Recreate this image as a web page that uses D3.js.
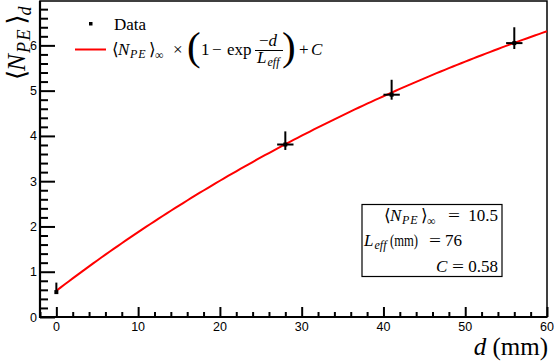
<!DOCTYPE html>
<html>
<head>
<meta charset="utf-8">
<script src="https://cdn.jsdelivr.net/npm/d3@7"></script>
<style>
	body { margin: 0; background: #fff; }
	svg { display: block; }
	.tick-label { font-family: "Liberation Sans", Arial, sans-serif; font-size: 12.5px; fill: #000; }
	.math { font-family: "Liberation Serif", "DejaVu Serif", serif; fill: #000; font-size: 17px; }
</style>
</head>
<body>
<div id="chart"></div>
<script>
// measured points: distance (mm), mean photo-electrons, asymmetric errors
var distances = [0, 28, 41, 56]
var npe = [0.55, 3.81, 4.91, 6.05]
var errUp = [0.21, 0.29, 0.33, 0.35]
var errDown = [0.02, 0.12, 0.11, 0.13]
var errX = [0, 1, 1, 1]
// fit parameters shown in the box
var fitNinf = 10.5
var fitLeff = 76
var fitC = 0.58
var xTicks = [0, 10, 20, 30, 40, 50, 60]
var yTicks = [0, 1, 2, 3, 4, 5, 6]

var width = 554, height = 363
var frame = {left: 40, right: 547, top: 1, bottom: 317}

var svg = d3.select("#chart").append("svg")
	.attr("width", width)
	.attr("height", height)

var x = d3.scaleLinear().domain([-2, 60]).range([frame.left, frame.right])
var y = d3.scaleLinear().domain([0, 6.98]).range([frame.bottom, frame.top])

// frame
svg.append("rect")
	.attr("x", frame.left).attr("y", frame.top)
	.attr("width", frame.right - frame.left).attr("height", frame.bottom - frame.top)
	.attr("fill", "none").attr("stroke", "#000").attr("stroke-width", 1.5)

// y axis, ROOT style: ticks drawn inside
svg.append("g").attr("transform", "translate(" + frame.left + ",0)")
	.call(d3.axisRight(y).tickValues(yTicks).tickSize(15).tickFormat(""))
var yMinor = d3.range(0, 6.9, 0.2).filter((v) => Math.abs(v - Math.round(v)) > 0.01)
svg.append("g").attr("transform", "translate(" + frame.left + ",0)")
	.call(d3.axisRight(y).tickValues(yMinor).tickSize(8).tickFormat(""))
svg.selectAll("g.ylab").data(yTicks).enter()
	.append("text")
	.attr("class", "tick-label")
	.attr("x", frame.left - 3)
	.attr("y", (d) => y(d) + 4.5)
	.style("text-anchor", "end")
	.text((d) => d)

// x axis
svg.append("g").attr("transform", "translate(0," + frame.bottom + ")")
	.call(d3.axisTop(x).tickValues(xTicks).tickSize(10).tickFormat(""))
var xMinor = d3.range(-2, 60, 2).filter((v) => v % 10 != 0)
svg.append("g").attr("transform", "translate(0," + frame.bottom + ")")
	.call(d3.axisTop(x).tickValues(xMinor).tickSize(5).tickFormat(""))
svg.selectAll("g path.domain").remove()
svg.selectAll("g .tick line").attr("stroke-width", 2)
svg.selectAll("text.xlab").data(xTicks).enter()
	.append("text")
	.attr("class", "tick-label xlab")
	.attr("x", (d) => x(d))
	.attr("y", frame.bottom + 14)
	.style("text-anchor", "middle")
	.text((d) => d)

// thick axis lines
svg.append("line").attr("x1", frame.left).attr("x2", frame.left)
	.attr("y1", frame.top).attr("y2", frame.bottom + 1)
	.attr("stroke", "#000").attr("stroke-width", 2.2)
svg.append("line").attr("x1", frame.left - 1).attr("x2", frame.right)
	.attr("y1", frame.bottom).attr("y2", frame.bottom)
	.attr("stroke", "#000").attr("stroke-width", 2.2)

// fit curve
var fitFn = (d) => fitNinf * (1 - Math.exp(-d / fitLeff)) + fitC
var curveD = d3.range(0, 60.01, 0.5)
svg.append("path")
	.attr("d", d3.line().x((d) => x(d)).y((d) => y(fitFn(d)))(curveD))
	.attr("fill", "none").attr("stroke", "#ff0000").attr("stroke-width", 2)

// data with error bars
var points = distances.map((d, i) => ({d: d, v: npe[i], up: errUp[i], down: errDown[i], ex: errX[i]}))
var pg = svg.selectAll("g.point").data(points).enter().append("g").attr("class", "point")
pg.append("line")
	.attr("x1", (p) => x(p.d)).attr("x2", (p) => x(p.d))
	.attr("y1", (p) => y(p.v + p.up)).attr("y2", (p) => y(p.v - p.down))
	.attr("stroke", "#000").attr("stroke-width", 2)
pg.filter((p) => p.ex > 0).append("line")
	.attr("x1", (p) => x(p.d - p.ex)).attr("x2", (p) => x(p.d + p.ex))
	.attr("y1", (p) => y(p.v)).attr("y2", (p) => y(p.v))
	.attr("stroke", "#000").attr("stroke-width", 2)
pg.append("rect")
	.attr("x", (p) => x(p.d) - 2).attr("y", (p) => y(p.v) - 2)
	.attr("width", 4).attr("height", 4).attr("fill", "#000")

// helpers for little LaTeX-like pieces
function mtext(px, py, size, anchor) {
	return svg.append("text").attr("class", "math")
		.attr("x", px).attr("y", py)
		.style("font-size", size + "px")
		.style("text-anchor", anchor || "start")
}
// <N_PE>_sub, each glyph placed at its own x, scale k relative to 17px
function npeSymbol(g, px, py, k, sub) {
	var t = g.append("text").attr("class", "math").attr("y", py).style("font-size", (17 * k) + "px")
	t.append("tspan").attr("x", px).text("\u27E8")
	t.append("tspan").attr("x", px + 6 * k).style("font-style", "italic").text("N")
	t.append("tspan").attr("x", px + 18 * k).attr("dy", 3 * k).style("font-style", "italic")
		.style("letter-spacing", (1 * k) + "px")
		.style("font-size", (12 * k) + "px").text("PE")
	t.append("tspan").attr("x", px + 37 * k).attr("dy", -3 * k).text("\u27E9")
	t.append("tspan").attr("x", px + 43 * k).attr("dy", 4 * k)
		.style("font-style", sub == "d" ? "italic" : "normal")
		.style("font-size", (12 * k) + "px").text(sub)
	return t
}
function leff(t) {
	t.append("tspan").style("font-style", "italic").text("L")
	t.append("tspan").style("font-style", "italic").style("font-size", "12px")
		.attr("dx", 1).attr("dy", 3).text("eff")
	return t
}
function eq(px, py) {
	return mtext(px, py, 17).attr("textLength", 12).attr("lengthAdjust", "spacingAndGlyphs").text("=")
}

// y axis title
var ytg = svg.append("g").attr("transform", "translate(25,0) rotate(-90)")
npeSymbol(ytg, -80, 0, 1.5, "d")

// x axis title
var xt = mtext(548, 355, 25, "end")
xt.append("tspan").style("font-style", "italic").text("d")
xt.append("tspan").text(" (mm)")

// legend
svg.append("rect").attr("x", 89).attr("y", 22).attr("width", 3.5).attr("height", 3.5).attr("fill", "#000")
mtext(114, 30, 17).text("Data")
svg.append("line").attr("x1", 75).attr("x2", 106).attr("y1", 49.5).attr("y2", 49.5)
	.attr("stroke", "#ff0000").attr("stroke-width", 2)
npeSymbol(svg, 112, 55, 1, "\u221E")
mtext(173, 55, 17).text("\u00D7")
mtext(187, 60, 41).text("(")
mtext(201, 55, 17).text("1")
mtext(212, 55, 17).text("\u2212")
mtext(227, 55, 17).text("exp")
mtext(268, 46, 17, "middle")
	.call((t) => { t.append("tspan").text("\u2212"); t.append("tspan").style("font-style", "italic").text("d") })
svg.append("line").attr("x1", 255).attr("x2", 283).attr("y1", 50.5).attr("y2", 50.5)
	.attr("stroke", "#000").attr("stroke-width", 1)
leff(mtext(257, 63, 17))
mtext(282, 60, 41).text(")")
mtext(299, 55, 17).text("+")
mtext(311, 55, 17).style("font-style", "italic").text("C")

// fit result box
svg.append("rect").attr("x", 362).attr("y", 204.5).attr("width", 140).attr("height", 72)
	.attr("fill", "#fff").attr("stroke", "#000").attr("stroke-width", 1.2)
npeSymbol(svg, 384, 221, 1, "\u221E")
eq(448, 221)
mtext(498, 221, 17, "end").text(fitNinf)
leff(mtext(364, 246, 17))
mtext(390, 246, 17).attr("textLength", 28).attr("lengthAdjust", "spacingAndGlyphs").text("(mm)")
eq(429, 246)
mtext(445, 246, 17).text(fitLeff)
mtext(436, 272, 17).style("font-style", "italic").text("C")
eq(452, 272)
mtext(498, 272, 17, "end").text(fitC)
</script>
</body>
</html>
